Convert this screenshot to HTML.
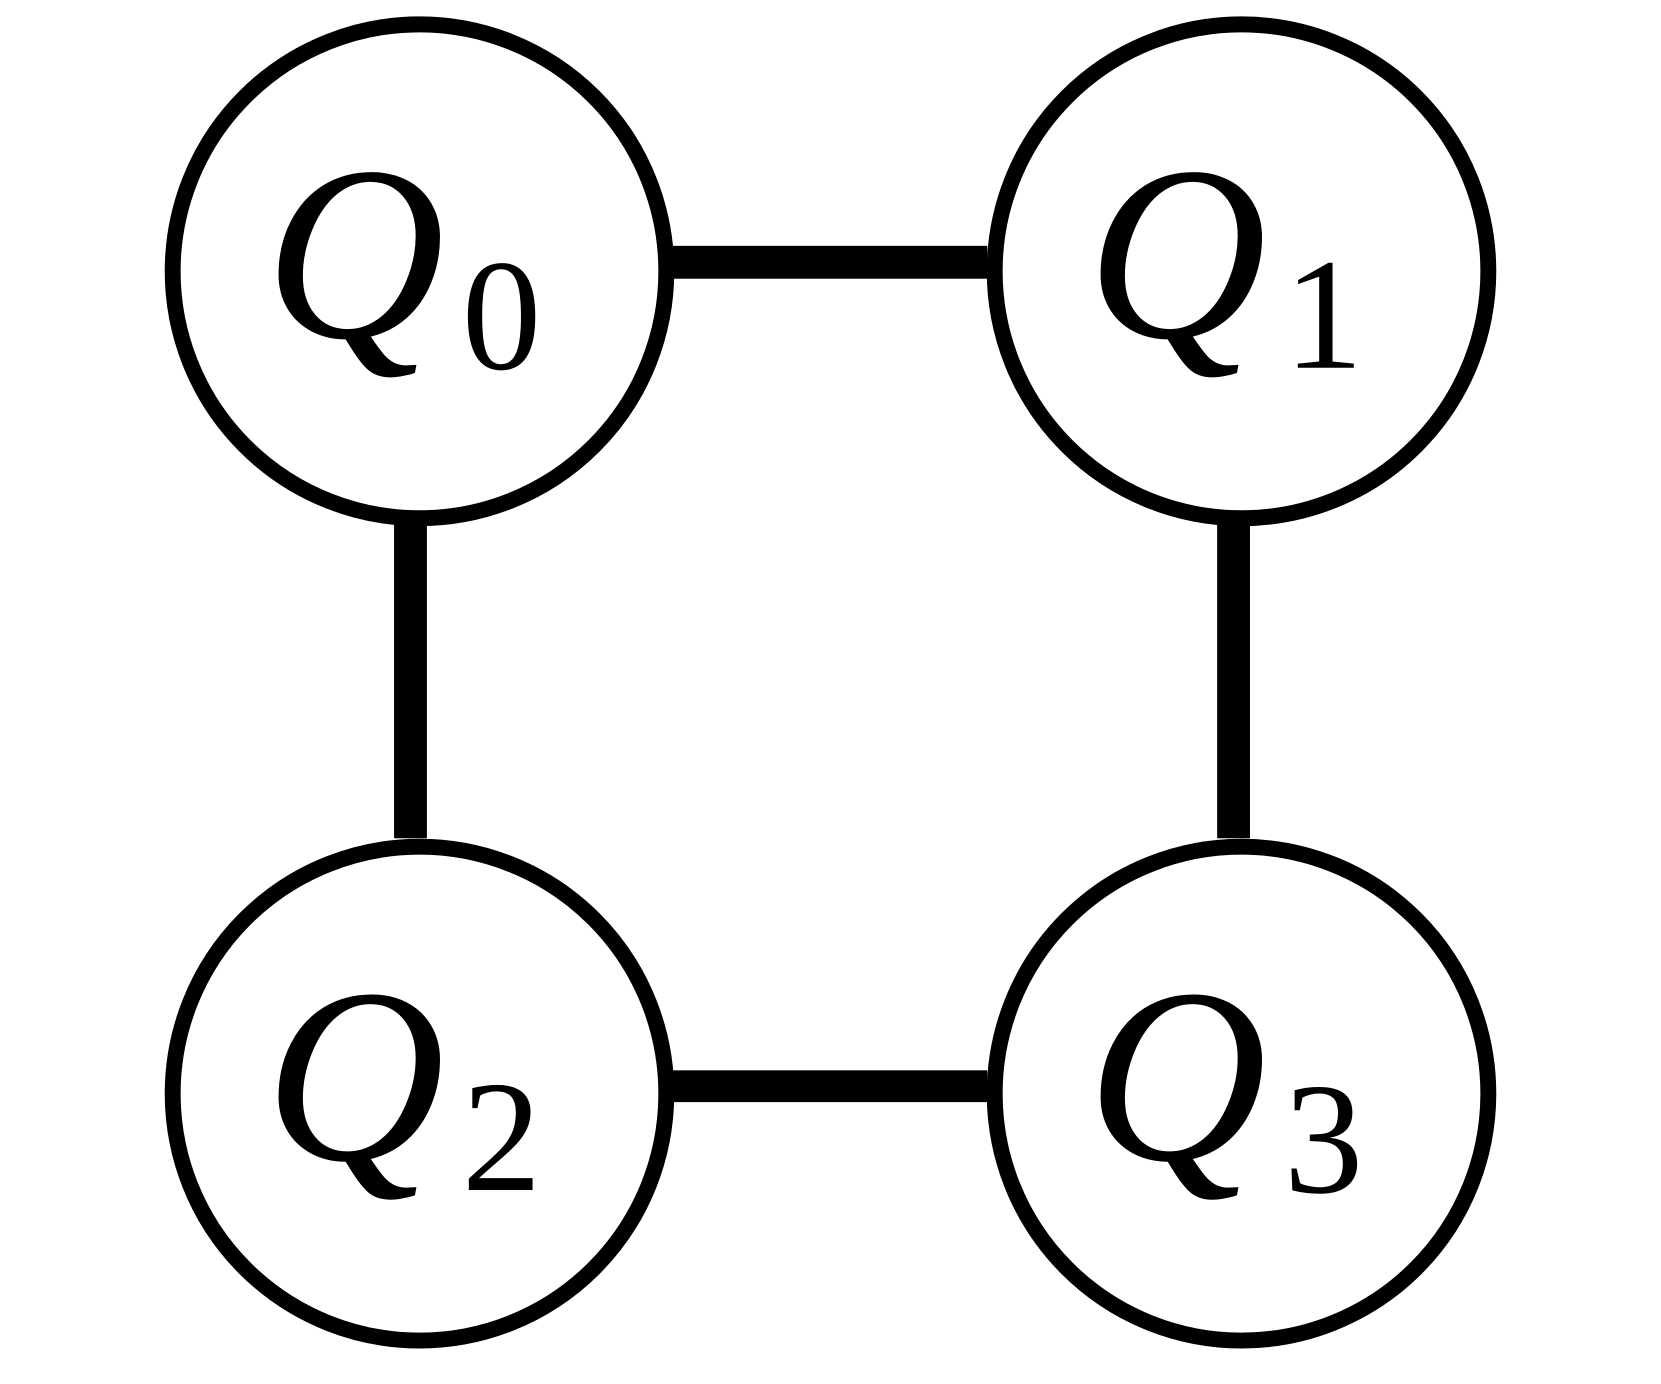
<!DOCTYPE html>
<html>
<head>
<meta charset="utf-8">
<style>
html,body{margin:0;padding:0;background:#fff;}
svg{display:block;}
.q{font-family:"Liberation Serif",serif;font-style:italic;font-size:235px;fill:#000;}
.s{font-family:"Liberation Serif",serif;font-size:150px;fill:#000;}
</style>
</head>
<body>
<svg width="1661" height="1384" viewBox="0 0 1568 1306" preserveAspectRatio="none" xmlns="http://www.w3.org/2000/svg">
<rect width="1568" height="1306" fill="#fff"/>
<g fill="#000">
<rect x="630" y="232" width="302" height="31"/>
<rect x="630" y="1010" width="302" height="30"/>
<rect x="372" y="485" width="31" height="306"/>
<rect x="1149" y="485" width="31" height="306"/>
</g>
<g fill="#fff" stroke="#000" stroke-width="15">
<circle cx="396" cy="256" r="233"/>
<circle cx="1172" cy="256" r="233"/>
<circle cx="396" cy="1032" r="233"/>
<circle cx="1172" cy="1032" r="233"/>
</g>
<text class="q" x="250" y="318">Q</text><text class="s" x="436" y="348">0</text>
<text class="q" x="1026" y="318">Q</text><text class="s" x="1212" y="347">1</text>
<text class="q" x="250" y="1094">Q</text><text class="s" x="436" y="1123">2</text>
<text class="q" x="1026" y="1094">Q</text><text class="s" x="1212" y="1125">3</text>
</svg>
</body>
</html>
